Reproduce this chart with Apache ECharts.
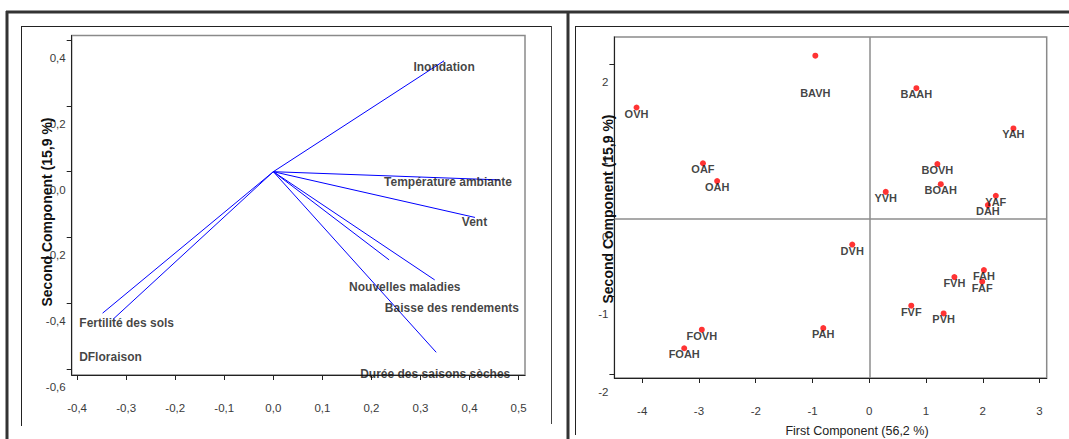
<!DOCTYPE html>
<html><head><meta charset="utf-8">
<script src="https://cdn.jsdelivr.net/npm/echarts@6/dist/echarts.min.js"></script>
<style>html,body{margin:0;padding:0;background:#fff}#c{width:1069px;height:439px}</style>
</head><body><div id="c"></div>
<script>
// ---- Left panel: loading vectors ----
const vecNames = ['Inondation','Température ambiante','Vent','Nouvelles maladies','Baisse des rendements','Durée des saisons sèches','Fertilité des sols','DFloraison'];
const vecX = [0.348, 0.461, 0.411, 0.236, 0.329, 0.332, -0.348, -0.327];
const vecY = [0.337, -0.025, -0.139, -0.268, -0.329, -0.549, -0.430, -0.449];
const vecLabelX = [0.348, 0.356, 0.410, 0.268, 0.364, 0.330, -0.299, -0.332];
const vecLabelY = [0.319, -0.032, -0.152, -0.351, -0.415, -0.616, -0.459, -0.562];
const leftXTicks = [-0.4,-0.3,-0.2,-0.1,0,0.1,0.2,0.3,0.4,0.5];
const leftYTicks = [-0.6,-0.4,-0.2,0,0.2,0.4];

// ---- Right panel: score plot ----
const pointNames = ['BAVH','OVH','BAAH','YAH','OAF','OAH','BOVH','BOAH','YVH','YAF','DAH','DVH','FAH','FAF','FVH','FVF','PVH','PAH','FOVH','FOAH'];
const pointX = [-0.95,-4.10,0.83,2.54,-2.93,-2.68,1.20,1.26,0.29,2.23,2.09,-0.30,2.02,1.99,1.50,0.74,1.31,-0.81,-2.95,-3.26];
const pointY = [2.11,1.44,1.69,1.17,0.72,0.49,0.71,0.45,0.35,0.30,0.18,-0.33,-0.66,-0.81,-0.75,-1.12,-1.22,-1.41,-1.43,-1.67];
const rightXTicks = [-4,-3,-2,-1,0,1,2,3];
const rightYTicks = [-2,-1,0,1,2];

const FONT = '"Liberation Sans", Arial, sans-serif';
const tickFont = {fontFamily: FONT, fontSize: 11.5, color: '#3a3a3a'};
const comma1 = v => (Math.round(v*10)/10).toFixed(1).replace('.', ',');

function xAxisCfg(grid, min, max, ticks, fmt){
  return {type:'value', gridIndex:grid, min, max,
    axisLine:{show:true, onZero:false, lineStyle:{color:'#222', width:1}},
    axisTick:{show:true, customValues:ticks, length:5, lineStyle:{color:'#222'}},
    axisLabel:Object.assign({customValues:ticks, formatter:fmt, margin:27, hideOverlap:false, showMinLabel:true, showMaxLabel:true}, tickFont),
    splitLine:{show:false}};
}
function yAxisCfg(grid, min, max, ticks, fmt){
  return {type:'value', gridIndex:grid, min, max,
    axisLine:{show:true, onZero:false, lineStyle:{color:'#222', width:1}},
    axisTick:{show:true, customValues:ticks, length:5, lineStyle:{color:'#222'}},
    axisLabel:Object.assign({customValues:ticks, formatter:v=>'\n'+fmt(v), margin:6, lineHeight:12, verticalAlign:'top', hideOverlap:false, showMinLabel:true, showMaxLabel:true}, tickFont),
    splitLine:{show:false}};
}

const series = [];
vecNames.forEach((n,i)=>{
  series.push({type:'line', xAxisIndex:0, yAxisIndex:0, data:[[0,0],[vecX[i],vecY[i]]],
    symbol:'none', silent:true, lineStyle:{color:'#0000ff', width:1}, z:2});
});
series.push({type:'scatter', xAxisIndex:0, yAxisIndex:0, clip:false, silent:true, symbolSize:1,
  itemStyle:{color:'transparent'},
  data: vecNames.map((n,i)=>({name:n, value:[vecLabelX[i], vecLabelY[i]]})),
  label:{show:true, position:'inside', formatter:'{b}', color:'#111', fontWeight:'bold', fontSize:12, fontFamily:FONT},
  z:5});

series.push({type:'scatter', xAxisIndex:1, yAxisIndex:1, clip:false, silent:true,
  symbol:'circle', symbolSize:6, itemStyle:{color:'#ff0000'},
  data: pointNames.map((n,i)=>{
    const d = {name:n, value:[pointX[i], pointY[i]]};
    if(n==='BAVH') d.label = {offset:[0,37]};
    return d;
  }),
  label:{show:true, position:'inside', offset:[0,6], formatter:'{b}', color:'#111', fontWeight:'bold', fontSize:11, fontFamily:FONT},
  markLine:{symbol:['none','none'], silent:true, label:{show:false},
    lineStyle:{color:'#8c8c8c', width:1.5, type:'solid'}, animation:false,
    data:[{xAxis:0},{yAxis:0}]},
  z:5});

function hline(x1,x2,y,w,c){return {type:'line', shape:{x1,y1:y,x2,y2:y}, style:{stroke:c,lineWidth:w}, z:100};}
function vline(x,y1,y2,w,c){return {type:'line', shape:{x1:x,y1,x2:x,y2}, style:{stroke:c,lineWidth:w}, z:100};}

const option = {
  animation:false,
  backgroundColor:'#fff',
  grid:[
    {left:71.7, top:35.5, width:453.3, height:339.5, show:true, borderColor:'#8a8a8a', borderWidth:1.5, outerBoundsMode:'none', containLabel:false},
    {left:614.4, top:37, width:432.3, height:341, show:true, borderColor:'#8a8a8a', borderWidth:1.5, outerBoundsMode:'none', containLabel:false}
  ],
  xAxis:[
    xAxisCfg(0, -0.411, 0.513, leftXTicks, comma1),
    xAxisCfg(1, -4.49, 3.126, rightXTicks, v=>String(Math.round(v)))
  ],
  yAxis:[
    yAxisCfg(0, -0.618, 0.414, leftYTicks, comma1),
    yAxisCfg(1, -2.054, 2.351, rightYTicks, v=>String(Math.round(v)))
  ],
  series,
  graphic:[
    hline(6, 1069, 12, 3, '#333'),
    vline(7, 11, 439, 3, '#333'),
    vline(568, 11, 439, 3, '#333'),
    hline(21, 551, 26.5, 1, '#222'),
    vline(21.5, 26, 426, 1, '#222'),
    vline(551.5, 26, 424, 1, '#444'),
    hline(575, 1069, 26.5, 1, '#222'),
    vline(575.5, 26, 435, 1, '#222'),
    {type:'text', x:47, y:212, rotation:Math.PI/2, z:50,
      style:{text:'Second Component (15,9 %)', fontFamily:FONT, fontWeight:'bold', fontSize:14, fill:'#111', align:'center', verticalAlign:'middle'}},
    {type:'text', x:608, y:209, rotation:Math.PI/2, z:50,
      style:{text:'Second Component (15,9 %)', fontFamily:FONT, fontWeight:'bold', fontSize:14, fill:'#111', align:'center', verticalAlign:'middle'}},
    {type:'text', x:857, y:431, z:50,
      style:{text:'First Component (56,2 %)', fontFamily:FONT, fontSize:12.5, fill:'#222', align:'center', verticalAlign:'middle'}}
  ]
};
const chart = echarts.init(document.getElementById('c'), null, {renderer:'svg'});
chart.setOption(option);
</script></body></html>
